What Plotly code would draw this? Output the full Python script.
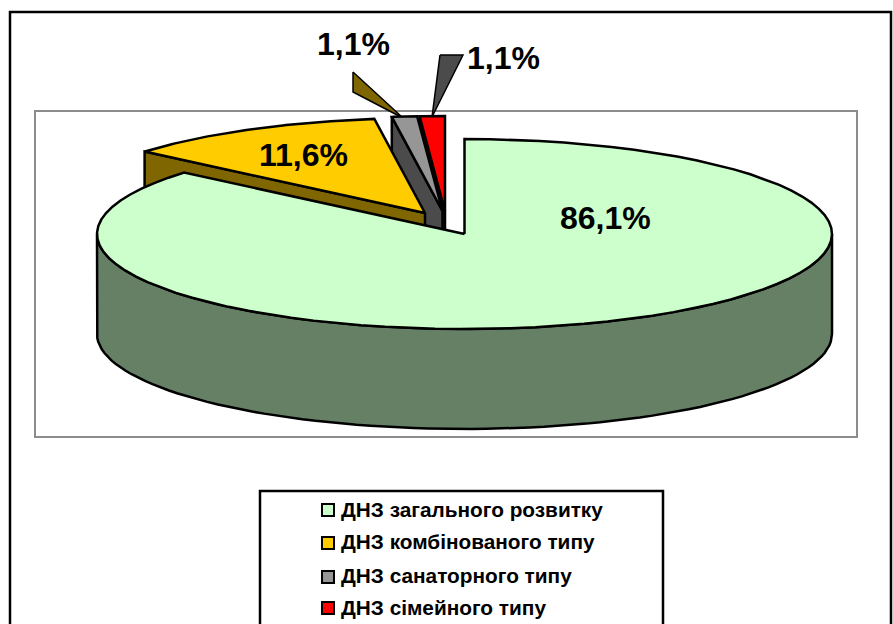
import numpy as np
import plotly.graph_objects as go

categories = ["ДНЗ загального розвитку", "ДНЗ комбінованого типу", "ДНЗ санаторного типу", "ДНЗ сімейного типу"]
values = [86.1, 11.6, 1.1, 1.1]

top_colors = ["#CCFFCC", "#FFCC00", "#969696", "#FF0000"]
wall_colors = ["#668066", "#806600", "#4B4B4B", "#800000"]

# pie projection (page pixels)
RX, RY, DEPTH = 367.5, 95.0, 100.0
centres = [(464.5, 234.0), (425.0, 213.0), (442.5, 211.0), (445.0, 211.0)]
LINE = dict(color="black", width=2.5)

total = sum(values)
edges = np.cumsum([0] + values) / total * 360.0


def rim(c, a0, a1, n=80, drop=0.0):
    t = np.radians(np.linspace(a0, a1, n))
    return c[0] + RX * np.sin(t), c[1] - RY * np.cos(t) + drop


def poly(xs, ys, fill, line=LINE):
    return go.Scatter(x=list(xs), y=list(ys), mode="lines", fill="toself", fillcolor=fill,
                      line=line, hoverinfo="skip", showlegend=False)


def top_face(i):
    x, y = rim(centres[i], edges[i], edges[i + 1])
    cx, cy = centres[i]
    return poly(np.r_[cx, x, cx], np.r_[cy, y, cy], top_colors[i])


def radial_wall(i, angle):
    x, y = rim(centres[i], angle, angle, n=1)
    cx, cy = centres[i]
    return poly([cx, x[0], x[0], cx, cx], [cy, y[0], y[0] + DEPTH, cy + DEPTH, cy], wall_colors[i])


fig = go.Figure()

# callout leaders (drawn behind the slices)
THIN = dict(color="black", width=1.5)
fig.add_trace(poly([353, 353, 403, 353], [72, 92, 118, 72], "#806600", THIN))
fig.add_trace(poly([440, 463, 432, 440], [55, 55, 117, 55], "#4B4B4B", THIN))

# exploded slices, back to front
fig.add_trace(radial_wall(3, edges[3]))
fig.add_trace(radial_wall(2, edges[2]))
fig.add_trace(top_face(2))
fig.add_trace(top_face(3))
fig.add_trace(radial_wall(1, edges[1]))
fig.add_trace(top_face(1))

# main slice: visible side then top
xf, yf = rim(centres[0], 90, 270)
xb, yb = rim(centres[0], 270, 90, drop=DEPTH)
fig.add_trace(poly(np.r_[xf, xb, xf[0]], np.r_[yf, yb, yf[0]], wall_colors[0]))
fig.add_trace(top_face(0))

# legend swatches
legend_y = [510, 543, 577, 608]
legend_text_y = [509.5, 541.5, 575.5, 607.5]
fig.add_trace(go.Scatter(x=[328] * 4, y=legend_y, mode="markers", hoverinfo="skip", showlegend=False,
                         marker=dict(symbol="square", size=12, color=top_colors,
                                     line=dict(color="black", width=2))))

FONT = "Liberation Sans, Arial, sans-serif"
annotations = []
label_pos = [(605.5, 218), (303.5, 155), (353.5, 44), (503.5, 58)]
for v, (x, y) in zip(values, label_pos):
    annotations.append(dict(x=x, y=y, text=f"<b>{v:.1f}%</b>".replace(".", ","), showarrow=False,
                            font=dict(family=FONT, size=32, color="black"),
                            xanchor="center", yanchor="middle"))
for name, y in zip(categories, legend_text_y):
    annotations.append(dict(x=338.5, y=y, text=f"<b>{name}</b>", showarrow=False,
                            font=dict(family=FONT, size=20.8, color="black"),
                            xanchor="left", yanchor="middle"))

shapes = [
    dict(type="rect", x0=10, y0=12, x1=891, y1=660, line=dict(color="black", width=2.5), layer="below"),
    dict(type="rect", x0=35, y0=111, x1=857, y1=437, line=dict(color="#8C8C8C", width=2), layer="below"),
    dict(type="rect", x0=260, y0=491, x1=663, y1=660, line=dict(color="black", width=2.5), layer="below"),
]

fig.update_layout(
    width=893, height=624, margin=dict(l=0, r=0, t=0, b=0),
    paper_bgcolor="white", plot_bgcolor="white", showlegend=False,
    xaxis=dict(range=[0, 893], visible=False, fixedrange=True),
    yaxis=dict(range=[624, 0], visible=False, fixedrange=True),
    annotations=annotations, shapes=shapes,
)
fig.write_html("out.html", config={"displayModeBar": False},
               post_script="document.body.style.margin='0';document.body.style.overflow='hidden';")
